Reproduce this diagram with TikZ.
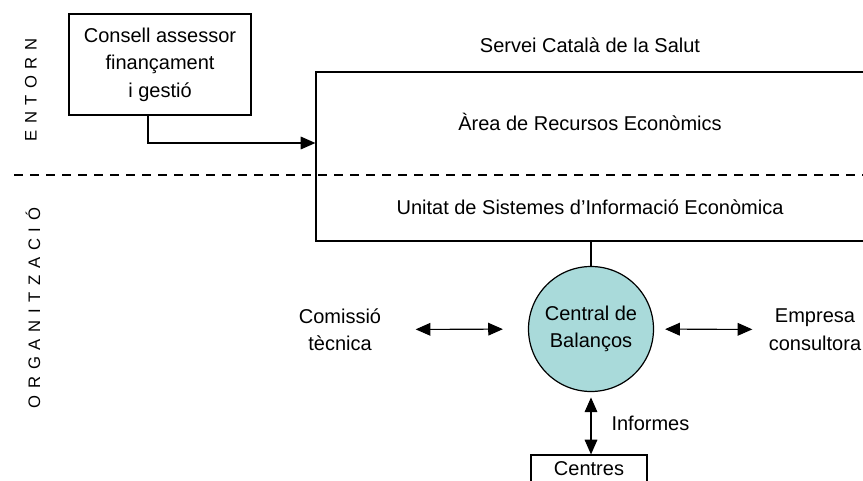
\documentclass[tikz,border=0pt]{standalone}
\usepackage{fontspec}
\setmainfont{Liberation Sans}
\usetikzlibrary{arrows.meta}
\definecolor{balanc}{HTML}{A9DADA}

\begin{document}
\begin{tikzpicture}[x=0.75pt,y=-0.75pt,line width=0.8pt,
	>={Triangle[length=11pt,width=9.5pt]},
	font=\fontsize{15}{20.6}\selectfont]
			\useasboundingbox (0,0) rectangle (863,481);
			% zones
			\draw[dash pattern=on 6.75pt off 5.25pt] (14,175) -- (863,175);
			\begin{scope}[every node/.style={rotate=90,font=\fontsize{12.5}{15}\selectfont\addfontfeature{LetterSpace=40}}]
				\node (entorn) at (31,90) {ENTORN};
				\node (organitzacio) at (33,308) {ORGANITZACIÓ};
			\end{scope}
			\begin{scope}[every node/.style={rectangle,draw,line width=0.9pt,align=center}]
				\node (consell) at (160,64.5) [minimum width=136.5pt,minimum height=75.75pt] {Consell assessor\\finançament\\i gestió};
				\node (salut) at (593,156.5) [minimum width=415.5pt,minimum height=126.75pt] {};
				\node (centres) at (589,469) [minimum width=87pt,minimum height=21pt] {Centres};
				\node (central) at (591,329) [circle,fill=balanc,minimum size=93.75pt] {Central de\\Balanços};
			\end{scope}
			\begin{scope}[every node/.style={inner sep=0pt,align=center}]
				\node (servei) at (590,45) {Servei Català de la Salut};
				\node (area) at (590,122) {Àrea de Recursos Econòmics};
				\node (unitat) at (590,207) {Unitat de Sistemes d’Informació Econòmica};
				\node (comissio) at (340,329.5) {Comissió\\tècnica};
				\node (empresa) at (815,329.5) {Empresa\\consultora};
				\node (informes) at (611,423) [anchor=west] {Informes};
			\end{scope}
			\path [->] ([xshift=-9pt]consell.south) edge [to path={|- (\tikztotarget)}] (salut.west |- 0,143);
			\draw (salut.south -| central.north) -- (central.north);
			\path [<->,shorten <=25.5pt,shorten >=18.75pt] (comissio) edge (central);
			\path [<->,shorten <=8.25pt,shorten >=12pt] (central) edge (empresa);
			\path [<->,shorten <=4pt] (central.south) edge (central.south |- centres.north);
		\end{tikzpicture}
\end{document}
